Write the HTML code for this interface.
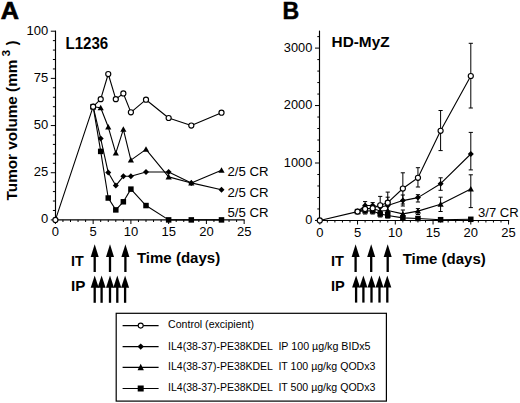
<!DOCTYPE html>
<html><head><meta charset="utf-8"><style>
html,body{margin:0;padding:0;background:#fff;}
svg{display:block;}
text{font-family:"Liberation Sans", sans-serif;fill:#000;}
.r{stroke:#000;stroke-width:0.2;}
</style></head><body>
<svg width="520" height="403" viewBox="0 0 520 403">
<rect width="520" height="403" fill="#fff"/>
<text x="0.85" y="19.00" font-size="24.80" font-weight="bold" textLength="18.20" lengthAdjust="spacingAndGlyphs" stroke="#000" stroke-width="0.7">A</text>
<line x1="55.50" y1="30.60" x2="55.50" y2="220.50" stroke="#000" stroke-width="1.15"/>
<line x1="54.40" y1="219.90" x2="244.60" y2="219.90" stroke="#000" stroke-width="1.15"/>
<line x1="50.80" y1="219.90" x2="55.50" y2="219.90" stroke="#000" stroke-width="1.0"/>
<line x1="52.90" y1="210.47" x2="55.50" y2="210.47" stroke="#000" stroke-width="1.0"/>
<line x1="52.90" y1="201.03" x2="55.50" y2="201.03" stroke="#000" stroke-width="1.0"/>
<line x1="52.90" y1="191.59" x2="55.50" y2="191.59" stroke="#000" stroke-width="1.0"/>
<line x1="52.90" y1="182.16" x2="55.50" y2="182.16" stroke="#000" stroke-width="1.0"/>
<line x1="50.80" y1="172.73" x2="55.50" y2="172.73" stroke="#000" stroke-width="1.0"/>
<line x1="52.90" y1="163.29" x2="55.50" y2="163.29" stroke="#000" stroke-width="1.0"/>
<line x1="52.90" y1="153.86" x2="55.50" y2="153.86" stroke="#000" stroke-width="1.0"/>
<line x1="52.90" y1="144.42" x2="55.50" y2="144.42" stroke="#000" stroke-width="1.0"/>
<line x1="52.90" y1="134.99" x2="55.50" y2="134.99" stroke="#000" stroke-width="1.0"/>
<line x1="50.80" y1="125.55" x2="55.50" y2="125.55" stroke="#000" stroke-width="1.0"/>
<line x1="52.90" y1="116.12" x2="55.50" y2="116.12" stroke="#000" stroke-width="1.0"/>
<line x1="52.90" y1="106.68" x2="55.50" y2="106.68" stroke="#000" stroke-width="1.0"/>
<line x1="52.90" y1="97.25" x2="55.50" y2="97.25" stroke="#000" stroke-width="1.0"/>
<line x1="52.90" y1="87.81" x2="55.50" y2="87.81" stroke="#000" stroke-width="1.0"/>
<line x1="50.80" y1="78.38" x2="55.50" y2="78.38" stroke="#000" stroke-width="1.0"/>
<line x1="52.90" y1="68.94" x2="55.50" y2="68.94" stroke="#000" stroke-width="1.0"/>
<line x1="52.90" y1="59.50" x2="55.50" y2="59.50" stroke="#000" stroke-width="1.0"/>
<line x1="52.90" y1="50.07" x2="55.50" y2="50.07" stroke="#000" stroke-width="1.0"/>
<line x1="52.90" y1="40.63" x2="55.50" y2="40.63" stroke="#000" stroke-width="1.0"/>
<line x1="50.80" y1="31.20" x2="55.50" y2="31.20" stroke="#000" stroke-width="1.0"/>
<text x="48.30" y="34.70" font-size="13.0" font-weight="normal" text-anchor="end" >100</text>
<text x="48.30" y="81.88" font-size="13.0" font-weight="normal" text-anchor="end" >75</text>
<text x="48.30" y="129.05" font-size="13.0" font-weight="normal" text-anchor="end" >50</text>
<text x="48.30" y="176.23" font-size="13.0" font-weight="normal" text-anchor="end" >25</text>
<text x="48.30" y="223.40" font-size="13.0" font-weight="normal" text-anchor="end" >0</text>
<line x1="55.40" y1="219.90" x2="55.40" y2="224.00" stroke="#000" stroke-width="1.0"/>
<line x1="62.95" y1="219.90" x2="62.95" y2="222.00" stroke="#000" stroke-width="1.0"/>
<line x1="70.50" y1="219.90" x2="70.50" y2="222.00" stroke="#000" stroke-width="1.0"/>
<line x1="78.05" y1="219.90" x2="78.05" y2="222.00" stroke="#000" stroke-width="1.0"/>
<line x1="85.60" y1="219.90" x2="85.60" y2="222.00" stroke="#000" stroke-width="1.0"/>
<line x1="93.15" y1="219.90" x2="93.15" y2="224.00" stroke="#000" stroke-width="1.0"/>
<line x1="100.70" y1="219.90" x2="100.70" y2="222.00" stroke="#000" stroke-width="1.0"/>
<line x1="108.25" y1="219.90" x2="108.25" y2="222.00" stroke="#000" stroke-width="1.0"/>
<line x1="115.80" y1="219.90" x2="115.80" y2="222.00" stroke="#000" stroke-width="1.0"/>
<line x1="123.35" y1="219.90" x2="123.35" y2="222.00" stroke="#000" stroke-width="1.0"/>
<line x1="130.90" y1="219.90" x2="130.90" y2="224.00" stroke="#000" stroke-width="1.0"/>
<line x1="138.45" y1="219.90" x2="138.45" y2="222.00" stroke="#000" stroke-width="1.0"/>
<line x1="146.00" y1="219.90" x2="146.00" y2="222.00" stroke="#000" stroke-width="1.0"/>
<line x1="153.55" y1="219.90" x2="153.55" y2="222.00" stroke="#000" stroke-width="1.0"/>
<line x1="161.10" y1="219.90" x2="161.10" y2="222.00" stroke="#000" stroke-width="1.0"/>
<line x1="168.65" y1="219.90" x2="168.65" y2="224.00" stroke="#000" stroke-width="1.0"/>
<line x1="176.20" y1="219.90" x2="176.20" y2="222.00" stroke="#000" stroke-width="1.0"/>
<line x1="183.75" y1="219.90" x2="183.75" y2="222.00" stroke="#000" stroke-width="1.0"/>
<line x1="191.30" y1="219.90" x2="191.30" y2="222.00" stroke="#000" stroke-width="1.0"/>
<line x1="198.85" y1="219.90" x2="198.85" y2="222.00" stroke="#000" stroke-width="1.0"/>
<line x1="206.40" y1="219.90" x2="206.40" y2="224.00" stroke="#000" stroke-width="1.0"/>
<line x1="213.95" y1="219.90" x2="213.95" y2="222.00" stroke="#000" stroke-width="1.0"/>
<line x1="221.50" y1="219.90" x2="221.50" y2="222.00" stroke="#000" stroke-width="1.0"/>
<line x1="229.05" y1="219.90" x2="229.05" y2="222.00" stroke="#000" stroke-width="1.0"/>
<line x1="236.60" y1="219.90" x2="236.60" y2="222.00" stroke="#000" stroke-width="1.0"/>
<line x1="244.15" y1="219.90" x2="244.15" y2="224.00" stroke="#000" stroke-width="1.0"/>
<text x="55.40" y="236.40" font-size="13.0" font-weight="normal" text-anchor="middle" >0</text>
<text x="93.15" y="236.40" font-size="13.0" font-weight="normal" text-anchor="middle" >5</text>
<text x="130.90" y="236.40" font-size="13.0" font-weight="normal" text-anchor="middle" >10</text>
<text x="168.65" y="236.40" font-size="13.0" font-weight="normal" text-anchor="middle" >15</text>
<text x="206.40" y="236.40" font-size="13.0" font-weight="normal" text-anchor="middle" >20</text>
<text x="244.15" y="236.40" font-size="13.0" font-weight="normal" text-anchor="middle" >25</text>
<text x="65.50" y="48.50" font-size="15.60" font-weight="bold" textLength="42.75" lengthAdjust="spacingAndGlyphs" >L1236</text>
<text transform="translate(16.5,200.4) rotate(-90)" font-size="14.3" font-weight="bold" textLength="140.8" lengthAdjust="spacingAndGlyphs">Tumor volume (mm</text>
<text transform="translate(9.9,56.4) rotate(-90)" font-size="11.8" font-weight="bold">3</text>
<text transform="translate(16.5,45.2) rotate(-90)" font-size="14.3" font-weight="bold">)</text>
<polyline points="93.15,106.68 100.70,151.40 108.25,198.01 115.80,209.90 123.35,201.78 130.90,189.14 146.00,205.56 168.65,219.90 191.30,219.90 221.50,219.90" fill="none" stroke="#000" stroke-width="1.1" stroke-linejoin="round"/>
<polyline points="93.15,106.68 100.70,107.81 108.25,127.06 115.80,153.10 123.35,129.32 130.90,160.08 146.00,149.33 168.65,176.88 191.30,182.91 221.50,170.27" fill="none" stroke="#000" stroke-width="1.1" stroke-linejoin="round"/>
<polyline points="93.15,106.68 100.70,138.57 108.25,172.54 115.80,185.56 123.35,176.31 130.90,176.31 146.00,171.97 168.65,171.97 191.30,182.91 221.50,189.71" fill="none" stroke="#000" stroke-width="1.1" stroke-linejoin="round"/>
<polyline points="55.40,219.90 93.15,106.68 100.70,99.13 108.25,74.03 115.80,99.13 123.35,93.47 130.90,112.34 146.00,99.70 168.65,118.00 191.30,125.55 221.50,112.72" fill="none" stroke="#000" stroke-width="1.1" stroke-linejoin="round"/>
<rect x="90.40" y="103.93" width="5.5" height="5.5" fill="#000"/>
<rect x="97.95" y="148.65" width="5.5" height="5.5" fill="#000"/>
<rect x="105.50" y="195.26" width="5.5" height="5.5" fill="#000"/>
<rect x="113.05" y="207.15" width="5.5" height="5.5" fill="#000"/>
<rect x="120.60" y="199.03" width="5.5" height="5.5" fill="#000"/>
<rect x="128.15" y="186.39" width="5.5" height="5.5" fill="#000"/>
<rect x="143.25" y="202.81" width="5.5" height="5.5" fill="#000"/>
<rect x="165.90" y="217.15" width="5.5" height="5.5" fill="#000"/>
<rect x="188.55" y="217.15" width="5.5" height="5.5" fill="#000"/>
<rect x="218.75" y="217.15" width="5.5" height="5.5" fill="#000"/>
<polygon points="93.15,103.60 96.25,109.20 90.05,109.20" fill="#000"/>
<polygon points="100.70,104.73 103.80,110.33 97.60,110.33" fill="#000"/>
<polygon points="108.25,123.98 111.35,129.58 105.15,129.58" fill="#000"/>
<polygon points="115.80,150.02 118.90,155.62 112.70,155.62" fill="#000"/>
<polygon points="123.35,126.24 126.45,131.84 120.25,131.84" fill="#000"/>
<polygon points="130.90,157.00 134.00,162.60 127.80,162.60" fill="#000"/>
<polygon points="146.00,146.25 149.10,151.85 142.90,151.85" fill="#000"/>
<polygon points="168.65,173.80 171.75,179.40 165.55,179.40" fill="#000"/>
<polygon points="191.30,179.83 194.40,185.43 188.20,185.43" fill="#000"/>
<polygon points="221.50,167.19 224.60,172.79 218.40,172.79" fill="#000"/>
<polygon points="93.15,103.68 96.15,106.68 93.15,109.68 90.15,106.68" fill="#000"/>
<polygon points="100.70,135.57 103.70,138.57 100.70,141.57 97.70,138.57" fill="#000"/>
<polygon points="108.25,169.54 111.25,172.54 108.25,175.54 105.25,172.54" fill="#000"/>
<polygon points="115.80,182.56 118.80,185.56 115.80,188.56 112.80,185.56" fill="#000"/>
<polygon points="123.35,173.31 126.35,176.31 123.35,179.31 120.35,176.31" fill="#000"/>
<polygon points="130.90,173.31 133.90,176.31 130.90,179.31 127.90,176.31" fill="#000"/>
<polygon points="146.00,168.97 149.00,171.97 146.00,174.97 143.00,171.97" fill="#000"/>
<polygon points="168.65,168.97 171.65,171.97 168.65,174.97 165.65,171.97" fill="#000"/>
<polygon points="191.30,179.91 194.30,182.91 191.30,185.91 188.30,182.91" fill="#000"/>
<polygon points="221.50,186.71 224.50,189.71 221.50,192.71 218.50,189.71" fill="#000"/>
<circle cx="55.40" cy="219.90" r="2.55" fill="#fff" stroke="#000" stroke-width="1.15"/>
<circle cx="93.15" cy="106.68" r="2.55" fill="#fff" stroke="#000" stroke-width="1.15"/>
<circle cx="100.70" cy="99.13" r="2.55" fill="#fff" stroke="#000" stroke-width="1.15"/>
<circle cx="108.25" cy="74.03" r="2.55" fill="#fff" stroke="#000" stroke-width="1.15"/>
<circle cx="115.80" cy="99.13" r="2.55" fill="#fff" stroke="#000" stroke-width="1.15"/>
<circle cx="123.35" cy="93.47" r="2.55" fill="#fff" stroke="#000" stroke-width="1.15"/>
<circle cx="130.90" cy="112.34" r="2.55" fill="#fff" stroke="#000" stroke-width="1.15"/>
<circle cx="146.00" cy="99.70" r="2.55" fill="#fff" stroke="#000" stroke-width="1.15"/>
<circle cx="168.65" cy="118.00" r="2.55" fill="#fff" stroke="#000" stroke-width="1.15"/>
<circle cx="191.30" cy="125.55" r="2.55" fill="#fff" stroke="#000" stroke-width="1.15"/>
<circle cx="221.50" cy="112.72" r="2.55" fill="#fff" stroke="#000" stroke-width="1.15"/>
<text x="227.50" y="176.00" font-size="12.15" font-weight="normal" textLength="41.07" lengthAdjust="spacingAndGlyphs" >2/5 CR</text>
<text x="227.50" y="197.00" font-size="12.43" font-weight="normal" textLength="41.07" lengthAdjust="spacingAndGlyphs" >2/5 CR</text>
<text x="227.50" y="217.00" font-size="11.87" font-weight="normal" textLength="41.07" lengthAdjust="spacingAndGlyphs" >5/5 CR</text>
<rect x="93.55" y="256.00" width="2.3" height="16.00" fill="#000"/>
<polygon points="94.70,244.20 98.70,257.00 90.70,257.00" fill="#000"/>
<rect x="108.85" y="256.00" width="2.3" height="16.00" fill="#000"/>
<polygon points="110.00,244.20 114.00,257.00 106.00,257.00" fill="#000"/>
<rect x="124.25" y="256.00" width="2.3" height="16.00" fill="#000"/>
<polygon points="125.40,244.20 129.40,257.00 121.40,257.00" fill="#000"/>
<rect x="93.55" y="286.70" width="2.3" height="16.10" fill="#000"/>
<polygon points="94.70,275.60 98.70,287.70 90.70,287.70" fill="#000"/>
<rect x="100.45" y="286.70" width="2.3" height="16.10" fill="#000"/>
<polygon points="101.60,275.60 105.60,287.70 97.60,287.70" fill="#000"/>
<rect x="108.85" y="286.70" width="2.3" height="16.10" fill="#000"/>
<polygon points="110.00,275.60 114.00,287.70 106.00,287.70" fill="#000"/>
<rect x="116.15" y="286.70" width="2.3" height="16.10" fill="#000"/>
<polygon points="117.30,275.60 121.30,287.70 113.30,287.70" fill="#000"/>
<rect x="123.95" y="286.70" width="2.3" height="16.10" fill="#000"/>
<polygon points="125.10,275.60 129.10,287.70 121.10,287.70" fill="#000"/>
<text x="71.00" y="265.50" font-size="14.04" font-weight="bold" textLength="12.74" lengthAdjust="spacingAndGlyphs" >IT</text>
<text x="71.00" y="290.50" font-size="14.31" font-weight="bold" textLength="14.39" lengthAdjust="spacingAndGlyphs" >IP</text>
<text x="136.90" y="263.34" font-size="15.00" font-weight="bold" textLength="83.29" lengthAdjust="spacingAndGlyphs" >Time (days)</text>
<text x="282.60" y="19.00" font-size="24.80" font-weight="bold" textLength="16.70" lengthAdjust="spacingAndGlyphs" stroke="#000" stroke-width="0.5">B</text>
<line x1="319.50" y1="30.60" x2="319.50" y2="221.00" stroke="#000" stroke-width="1.15"/>
<line x1="319.00" y1="220.45" x2="509.20" y2="220.45" stroke="#000" stroke-width="1.15"/>
<line x1="315.00" y1="220.45" x2="319.50" y2="220.45" stroke="#000" stroke-width="1.0"/>
<line x1="317.30" y1="208.96" x2="319.50" y2="208.96" stroke="#000" stroke-width="1.0"/>
<line x1="317.30" y1="197.47" x2="319.50" y2="197.47" stroke="#000" stroke-width="1.0"/>
<line x1="317.30" y1="185.98" x2="319.50" y2="185.98" stroke="#000" stroke-width="1.0"/>
<line x1="317.30" y1="174.49" x2="319.50" y2="174.49" stroke="#000" stroke-width="1.0"/>
<line x1="315.00" y1="163.00" x2="319.50" y2="163.00" stroke="#000" stroke-width="1.0"/>
<line x1="317.30" y1="151.51" x2="319.50" y2="151.51" stroke="#000" stroke-width="1.0"/>
<line x1="317.30" y1="140.02" x2="319.50" y2="140.02" stroke="#000" stroke-width="1.0"/>
<line x1="317.30" y1="128.53" x2="319.50" y2="128.53" stroke="#000" stroke-width="1.0"/>
<line x1="317.30" y1="117.04" x2="319.50" y2="117.04" stroke="#000" stroke-width="1.0"/>
<line x1="315.00" y1="105.55" x2="319.50" y2="105.55" stroke="#000" stroke-width="1.0"/>
<line x1="317.30" y1="94.06" x2="319.50" y2="94.06" stroke="#000" stroke-width="1.0"/>
<line x1="317.30" y1="82.57" x2="319.50" y2="82.57" stroke="#000" stroke-width="1.0"/>
<line x1="317.30" y1="71.08" x2="319.50" y2="71.08" stroke="#000" stroke-width="1.0"/>
<line x1="317.30" y1="59.59" x2="319.50" y2="59.59" stroke="#000" stroke-width="1.0"/>
<line x1="315.00" y1="48.10" x2="319.50" y2="48.10" stroke="#000" stroke-width="1.0"/>
<line x1="317.30" y1="36.61" x2="319.50" y2="36.61" stroke="#000" stroke-width="1.0"/>
<text x="312.30" y="51.70" font-size="12.8" font-weight="normal" text-anchor="end" >3000</text>
<text x="312.30" y="109.15" font-size="12.8" font-weight="normal" text-anchor="end" >2000</text>
<text x="312.30" y="166.60" font-size="12.8" font-weight="normal" text-anchor="end" >1000</text>
<text x="312.30" y="224.05" font-size="12.8" font-weight="normal" text-anchor="end" >0</text>
<line x1="319.80" y1="220.45" x2="319.80" y2="224.50" stroke="#000" stroke-width="1.0"/>
<line x1="327.35" y1="220.45" x2="327.35" y2="222.50" stroke="#000" stroke-width="1.0"/>
<line x1="334.90" y1="220.45" x2="334.90" y2="222.50" stroke="#000" stroke-width="1.0"/>
<line x1="342.45" y1="220.45" x2="342.45" y2="222.50" stroke="#000" stroke-width="1.0"/>
<line x1="350.00" y1="220.45" x2="350.00" y2="222.50" stroke="#000" stroke-width="1.0"/>
<line x1="357.55" y1="220.45" x2="357.55" y2="224.50" stroke="#000" stroke-width="1.0"/>
<line x1="365.10" y1="220.45" x2="365.10" y2="222.50" stroke="#000" stroke-width="1.0"/>
<line x1="372.65" y1="220.45" x2="372.65" y2="222.50" stroke="#000" stroke-width="1.0"/>
<line x1="380.20" y1="220.45" x2="380.20" y2="222.50" stroke="#000" stroke-width="1.0"/>
<line x1="387.75" y1="220.45" x2="387.75" y2="222.50" stroke="#000" stroke-width="1.0"/>
<line x1="395.30" y1="220.45" x2="395.30" y2="224.50" stroke="#000" stroke-width="1.0"/>
<line x1="402.85" y1="220.45" x2="402.85" y2="222.50" stroke="#000" stroke-width="1.0"/>
<line x1="410.40" y1="220.45" x2="410.40" y2="222.50" stroke="#000" stroke-width="1.0"/>
<line x1="417.95" y1="220.45" x2="417.95" y2="222.50" stroke="#000" stroke-width="1.0"/>
<line x1="425.50" y1="220.45" x2="425.50" y2="222.50" stroke="#000" stroke-width="1.0"/>
<line x1="433.05" y1="220.45" x2="433.05" y2="224.50" stroke="#000" stroke-width="1.0"/>
<line x1="440.60" y1="220.45" x2="440.60" y2="222.50" stroke="#000" stroke-width="1.0"/>
<line x1="448.15" y1="220.45" x2="448.15" y2="222.50" stroke="#000" stroke-width="1.0"/>
<line x1="455.70" y1="220.45" x2="455.70" y2="222.50" stroke="#000" stroke-width="1.0"/>
<line x1="463.25" y1="220.45" x2="463.25" y2="222.50" stroke="#000" stroke-width="1.0"/>
<line x1="470.80" y1="220.45" x2="470.80" y2="224.50" stroke="#000" stroke-width="1.0"/>
<line x1="478.35" y1="220.45" x2="478.35" y2="222.50" stroke="#000" stroke-width="1.0"/>
<line x1="485.90" y1="220.45" x2="485.90" y2="222.50" stroke="#000" stroke-width="1.0"/>
<line x1="493.45" y1="220.45" x2="493.45" y2="222.50" stroke="#000" stroke-width="1.0"/>
<line x1="501.00" y1="220.45" x2="501.00" y2="222.50" stroke="#000" stroke-width="1.0"/>
<line x1="508.55" y1="220.45" x2="508.55" y2="224.50" stroke="#000" stroke-width="1.0"/>
<text x="319.80" y="236.50" font-size="13.0" font-weight="normal" text-anchor="middle" >0</text>
<text x="357.55" y="236.50" font-size="13.0" font-weight="normal" text-anchor="middle" >5</text>
<text x="395.30" y="236.50" font-size="13.0" font-weight="normal" text-anchor="middle" >10</text>
<text x="433.05" y="236.50" font-size="13.0" font-weight="normal" text-anchor="middle" >15</text>
<text x="470.80" y="236.50" font-size="13.0" font-weight="normal" text-anchor="middle" >20</text>
<text x="508.55" y="236.50" font-size="13.0" font-weight="normal" text-anchor="middle" >25</text>
<text x="331.60" y="47.28" font-size="15.20" font-weight="bold" textLength="57.98" lengthAdjust="spacingAndGlyphs" >HD-MyZ</text>
<line x1="365.10" y1="201.60" x2="365.10" y2="214.00" stroke="#000" stroke-width="1.0"/>
<line x1="363.00" y1="201.60" x2="367.20" y2="201.60" stroke="#000" stroke-width="1.0"/>
<line x1="363.00" y1="214.00" x2="367.20" y2="214.00" stroke="#000" stroke-width="1.0"/>
<line x1="372.65" y1="202.60" x2="372.65" y2="214.00" stroke="#000" stroke-width="1.0"/>
<line x1="370.55" y1="202.60" x2="374.75" y2="202.60" stroke="#000" stroke-width="1.0"/>
<line x1="370.55" y1="214.00" x2="374.75" y2="214.00" stroke="#000" stroke-width="1.0"/>
<line x1="380.20" y1="196.40" x2="380.20" y2="217.00" stroke="#000" stroke-width="1.0"/>
<line x1="378.10" y1="196.40" x2="382.30" y2="196.40" stroke="#000" stroke-width="1.0"/>
<line x1="378.10" y1="217.00" x2="382.30" y2="217.00" stroke="#000" stroke-width="1.0"/>
<line x1="387.75" y1="192.10" x2="387.75" y2="218.00" stroke="#000" stroke-width="1.0"/>
<line x1="385.65" y1="192.10" x2="389.85" y2="192.10" stroke="#000" stroke-width="1.0"/>
<line x1="385.65" y1="218.00" x2="389.85" y2="218.00" stroke="#000" stroke-width="1.0"/>
<line x1="387.75" y1="197.20" x2="387.75" y2="214.00" stroke="#000" stroke-width="1.0"/>
<line x1="385.65" y1="197.20" x2="389.85" y2="197.20" stroke="#000" stroke-width="1.0"/>
<line x1="385.65" y1="214.00" x2="389.85" y2="214.00" stroke="#000" stroke-width="1.0"/>
<line x1="402.85" y1="172.80" x2="402.85" y2="204.00" stroke="#000" stroke-width="1.0"/>
<line x1="400.75" y1="172.80" x2="404.95" y2="172.80" stroke="#000" stroke-width="1.0"/>
<line x1="400.75" y1="204.00" x2="404.95" y2="204.00" stroke="#000" stroke-width="1.0"/>
<line x1="417.95" y1="167.70" x2="417.95" y2="187.00" stroke="#000" stroke-width="1.0"/>
<line x1="415.85" y1="167.70" x2="420.05" y2="167.70" stroke="#000" stroke-width="1.0"/>
<line x1="415.85" y1="187.00" x2="420.05" y2="187.00" stroke="#000" stroke-width="1.0"/>
<line x1="417.95" y1="194.70" x2="417.95" y2="202.00" stroke="#000" stroke-width="1.0"/>
<line x1="415.85" y1="194.70" x2="420.05" y2="194.70" stroke="#000" stroke-width="1.0"/>
<line x1="415.85" y1="202.00" x2="420.05" y2="202.00" stroke="#000" stroke-width="1.0"/>
<line x1="417.95" y1="208.60" x2="417.95" y2="214.50" stroke="#000" stroke-width="1.0"/>
<line x1="415.85" y1="208.60" x2="420.05" y2="208.60" stroke="#000" stroke-width="1.0"/>
<line x1="415.85" y1="214.50" x2="420.05" y2="214.50" stroke="#000" stroke-width="1.0"/>
<line x1="440.60" y1="110.50" x2="440.60" y2="150.60" stroke="#000" stroke-width="1.0"/>
<line x1="438.50" y1="110.50" x2="442.70" y2="110.50" stroke="#000" stroke-width="1.0"/>
<line x1="438.50" y1="150.60" x2="442.70" y2="150.60" stroke="#000" stroke-width="1.0"/>
<line x1="440.60" y1="177.80" x2="440.60" y2="190.30" stroke="#000" stroke-width="1.0"/>
<line x1="438.50" y1="177.80" x2="442.70" y2="177.80" stroke="#000" stroke-width="1.0"/>
<line x1="438.50" y1="190.30" x2="442.70" y2="190.30" stroke="#000" stroke-width="1.0"/>
<line x1="440.60" y1="197.20" x2="440.60" y2="211.50" stroke="#000" stroke-width="1.0"/>
<line x1="438.50" y1="197.20" x2="442.70" y2="197.20" stroke="#000" stroke-width="1.0"/>
<line x1="438.50" y1="211.50" x2="442.70" y2="211.50" stroke="#000" stroke-width="1.0"/>
<line x1="470.80" y1="43.30" x2="470.80" y2="108.00" stroke="#000" stroke-width="1.0"/>
<line x1="468.70" y1="43.30" x2="472.90" y2="43.30" stroke="#000" stroke-width="1.0"/>
<line x1="468.70" y1="108.00" x2="472.90" y2="108.00" stroke="#000" stroke-width="1.0"/>
<line x1="470.80" y1="132.40" x2="470.80" y2="169.90" stroke="#000" stroke-width="1.0"/>
<line x1="468.70" y1="132.40" x2="472.90" y2="132.40" stroke="#000" stroke-width="1.0"/>
<line x1="468.70" y1="169.90" x2="472.90" y2="169.90" stroke="#000" stroke-width="1.0"/>
<line x1="470.80" y1="174.80" x2="470.80" y2="207.60" stroke="#000" stroke-width="1.0"/>
<line x1="468.70" y1="174.80" x2="472.90" y2="174.80" stroke="#000" stroke-width="1.0"/>
<line x1="468.70" y1="207.60" x2="472.90" y2="207.60" stroke="#000" stroke-width="1.0"/>
<line x1="402.85" y1="195.00" x2="402.85" y2="206.00" stroke="#000" stroke-width="1.0"/>
<line x1="400.75" y1="195.00" x2="404.95" y2="195.00" stroke="#000" stroke-width="1.0"/>
<line x1="400.75" y1="206.00" x2="404.95" y2="206.00" stroke="#000" stroke-width="1.0"/>
<line x1="402.85" y1="210.00" x2="402.85" y2="217.00" stroke="#000" stroke-width="1.0"/>
<line x1="400.75" y1="210.00" x2="404.95" y2="210.00" stroke="#000" stroke-width="1.0"/>
<line x1="400.75" y1="217.00" x2="404.95" y2="217.00" stroke="#000" stroke-width="1.0"/>
<polyline points="357.55,211.60 365.10,210.80 372.65,211.00 380.20,214.00 387.75,215.50 402.85,217.90 417.95,218.50 440.60,219.70 470.80,219.30" fill="none" stroke="#000" stroke-width="1.1" stroke-linejoin="round"/>
<polyline points="357.55,211.60 365.10,208.50 372.65,208.50 380.20,211.00 387.75,210.50 402.85,213.90 417.95,211.10 440.60,204.20 470.80,189.10" fill="none" stroke="#000" stroke-width="1.1" stroke-linejoin="round"/>
<polyline points="357.55,211.60 365.10,205.50 372.65,205.50 380.20,207.00 387.75,205.50 402.85,200.60 417.95,197.60 440.60,183.70 470.80,154.00" fill="none" stroke="#000" stroke-width="1.1" stroke-linejoin="round"/>
<polyline points="319.80,220.45 357.55,211.60 365.10,208.90 372.65,208.20 380.20,205.30 387.75,202.70 402.85,188.50 417.95,177.80 440.60,130.80 470.80,76.00" fill="none" stroke="#000" stroke-width="1.1" stroke-linejoin="round"/>
<rect x="354.80" y="208.85" width="5.5" height="5.5" fill="#000"/>
<rect x="362.35" y="208.05" width="5.5" height="5.5" fill="#000"/>
<rect x="369.90" y="208.25" width="5.5" height="5.5" fill="#000"/>
<rect x="377.45" y="211.25" width="5.5" height="5.5" fill="#000"/>
<rect x="385.00" y="212.75" width="5.5" height="5.5" fill="#000"/>
<rect x="400.10" y="215.15" width="5.5" height="5.5" fill="#000"/>
<rect x="415.20" y="215.75" width="5.5" height="5.5" fill="#000"/>
<rect x="437.85" y="216.95" width="5.5" height="5.5" fill="#000"/>
<rect x="468.05" y="216.55" width="5.5" height="5.5" fill="#000"/>
<polygon points="357.55,208.52 360.65,214.12 354.45,214.12" fill="#000"/>
<polygon points="365.10,205.42 368.20,211.02 362.00,211.02" fill="#000"/>
<polygon points="372.65,205.42 375.75,211.02 369.55,211.02" fill="#000"/>
<polygon points="380.20,207.92 383.30,213.52 377.10,213.52" fill="#000"/>
<polygon points="387.75,207.42 390.85,213.02 384.65,213.02" fill="#000"/>
<polygon points="402.85,210.82 405.95,216.42 399.75,216.42" fill="#000"/>
<polygon points="417.95,208.02 421.05,213.62 414.85,213.62" fill="#000"/>
<polygon points="440.60,201.12 443.70,206.72 437.50,206.72" fill="#000"/>
<polygon points="470.80,186.02 473.90,191.62 467.70,191.62" fill="#000"/>
<polygon points="357.55,208.60 360.55,211.60 357.55,214.60 354.55,211.60" fill="#000"/>
<polygon points="365.10,202.50 368.10,205.50 365.10,208.50 362.10,205.50" fill="#000"/>
<polygon points="372.65,202.50 375.65,205.50 372.65,208.50 369.65,205.50" fill="#000"/>
<polygon points="380.20,204.00 383.20,207.00 380.20,210.00 377.20,207.00" fill="#000"/>
<polygon points="387.75,202.50 390.75,205.50 387.75,208.50 384.75,205.50" fill="#000"/>
<polygon points="402.85,197.60 405.85,200.60 402.85,203.60 399.85,200.60" fill="#000"/>
<polygon points="417.95,194.60 420.95,197.60 417.95,200.60 414.95,197.60" fill="#000"/>
<polygon points="440.60,180.70 443.60,183.70 440.60,186.70 437.60,183.70" fill="#000"/>
<polygon points="470.80,151.00 473.80,154.00 470.80,157.00 467.80,154.00" fill="#000"/>
<circle cx="319.80" cy="220.45" r="2.55" fill="#fff" stroke="#000" stroke-width="1.15"/>
<circle cx="357.55" cy="211.60" r="2.55" fill="#fff" stroke="#000" stroke-width="1.15"/>
<circle cx="365.10" cy="208.90" r="2.55" fill="#fff" stroke="#000" stroke-width="1.15"/>
<circle cx="372.65" cy="208.20" r="2.55" fill="#fff" stroke="#000" stroke-width="1.15"/>
<circle cx="380.20" cy="205.30" r="2.55" fill="#fff" stroke="#000" stroke-width="1.15"/>
<circle cx="387.75" cy="202.70" r="2.55" fill="#fff" stroke="#000" stroke-width="1.15"/>
<circle cx="402.85" cy="188.50" r="2.55" fill="#fff" stroke="#000" stroke-width="1.15"/>
<circle cx="417.95" cy="177.80" r="2.55" fill="#fff" stroke="#000" stroke-width="1.15"/>
<circle cx="440.60" cy="130.80" r="2.55" fill="#fff" stroke="#000" stroke-width="1.15"/>
<circle cx="470.80" cy="76.00" r="2.55" fill="#fff" stroke="#000" stroke-width="1.15"/>
<text x="478.00" y="217.00" font-size="11.87" font-weight="normal" textLength="40.67" lengthAdjust="spacingAndGlyphs" >3/7 CR</text>
<rect x="354.45" y="256.00" width="2.3" height="16.00" fill="#000"/>
<polygon points="355.60,244.20 359.60,257.00 351.60,257.00" fill="#000"/>
<rect x="370.05" y="256.00" width="2.3" height="16.00" fill="#000"/>
<polygon points="371.20,244.20 375.20,257.00 367.20,257.00" fill="#000"/>
<rect x="386.55" y="256.00" width="2.3" height="16.00" fill="#000"/>
<polygon points="387.70,244.20 391.70,257.00 383.70,257.00" fill="#000"/>
<rect x="354.95" y="286.50" width="2.3" height="16.10" fill="#000"/>
<polygon points="356.10,275.60 360.10,287.50 352.10,287.50" fill="#000"/>
<rect x="362.25" y="286.50" width="2.3" height="16.10" fill="#000"/>
<polygon points="363.40,275.60 367.40,287.50 359.40,287.50" fill="#000"/>
<rect x="370.35" y="286.50" width="2.3" height="16.10" fill="#000"/>
<polygon points="371.50,275.60 375.50,287.50 367.50,287.50" fill="#000"/>
<rect x="378.35" y="286.50" width="2.3" height="16.10" fill="#000"/>
<polygon points="379.50,275.60 383.50,287.50 375.50,287.50" fill="#000"/>
<rect x="386.15" y="286.50" width="2.3" height="16.10" fill="#000"/>
<polygon points="387.30,275.60 391.30,287.50 383.30,287.50" fill="#000"/>
<text x="331.00" y="265.50" font-size="14.04" font-weight="bold" textLength="12.94" lengthAdjust="spacingAndGlyphs" >IT</text>
<text x="331.00" y="291.00" font-size="14.31" font-weight="bold" textLength="13.79" lengthAdjust="spacingAndGlyphs" >IP</text>
<text x="402.70" y="263.74" font-size="15.00" font-weight="bold" textLength="83.09" lengthAdjust="spacingAndGlyphs" >Time (days)</text>
<rect x="116.2" y="313.3" width="270.2" height="87.8" fill="none" stroke="#000" stroke-width="1.2"/>
<line x1="122.60" y1="325.60" x2="158.60" y2="325.60" stroke="#000" stroke-width="1.1"/>
<circle cx="140.70" cy="325.60" r="2.5" fill="#fff" stroke="#000" stroke-width="1.1"/>
<line x1="122.60" y1="346.60" x2="158.60" y2="346.60" stroke="#000" stroke-width="1.1"/>
<polygon points="140.70,343.40 143.90,346.60 140.70,349.80 137.50,346.60" fill="#000"/>
<line x1="122.60" y1="367.40" x2="158.60" y2="367.40" stroke="#000" stroke-width="1.1"/>
<polygon points="140.70,363.77 143.85,370.37 137.55,370.37" fill="#000"/>
<line x1="122.60" y1="388.50" x2="158.60" y2="388.50" stroke="#000" stroke-width="1.1"/>
<rect x="137.70" y="385.50" width="6.0" height="6.0" fill="#000"/>
<text x="168.10" y="328.30" font-size="10.80" font-weight="normal" textLength="85.81" lengthAdjust="spacingAndGlyphs" >Control (excipient)</text>
<text x="168.10" y="349.70" font-size="10.80" font-weight="normal" textLength="104.83" lengthAdjust="spacingAndGlyphs" >IL4(38-37)-PE38KDEL</text>
<text x="278.40" y="349.70" font-size="10.80" font-weight="normal" textLength="92.06" lengthAdjust="spacingAndGlyphs" >IP 100 µg/kg BIDx5</text>
<text x="168.10" y="370.10" font-size="10.80" font-weight="normal" textLength="104.83" lengthAdjust="spacingAndGlyphs" >IL4(38-37)-PE38KDEL</text>
<text x="278.40" y="370.10" font-size="10.80" font-weight="normal" textLength="97.05" lengthAdjust="spacingAndGlyphs" >IT 100 µg/kg QODx3</text>
<text x="168.10" y="391.20" font-size="10.80" font-weight="normal" textLength="104.83" lengthAdjust="spacingAndGlyphs" >IL4(38-37)-PE38KDEL</text>
<text x="278.40" y="391.20" font-size="10.80" font-weight="normal" textLength="97.05" lengthAdjust="spacingAndGlyphs" >IT 500 µg/kg QODx3</text>
</svg>
</body></html>
